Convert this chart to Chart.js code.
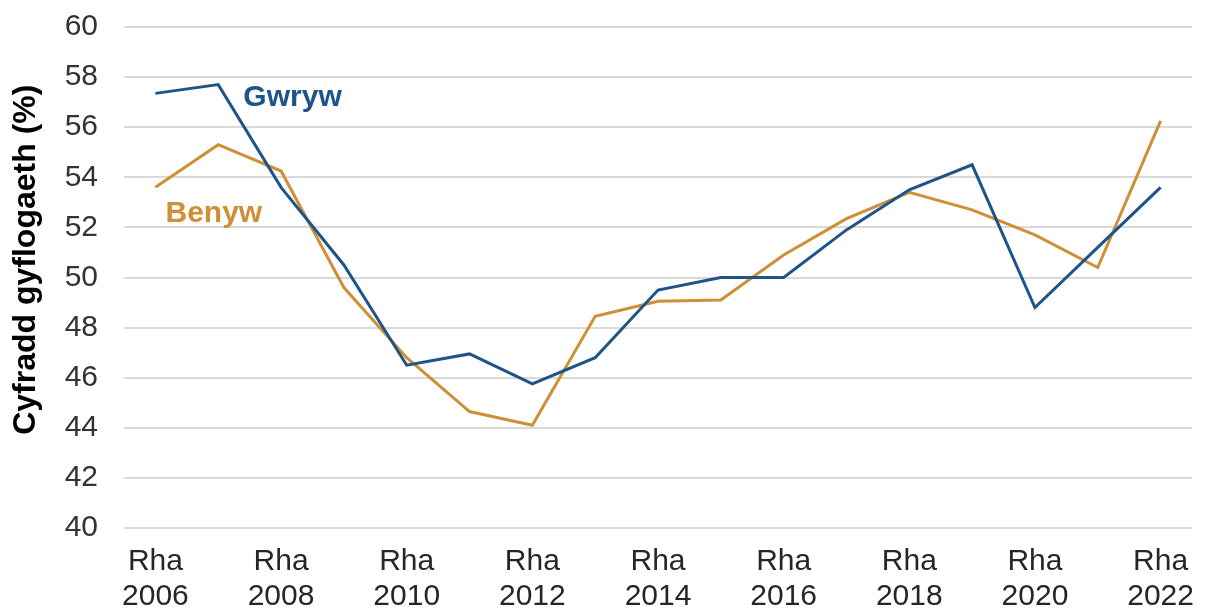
<!DOCTYPE html>
<html>
<head>
<meta charset="utf-8">
<script src="https://cdn.jsdelivr.net/npm/chart.js@4/dist/chart.umd.min.js"></script>
<style>
  html, body { margin: 0; padding: 0; background: #fff; }
  #wrap { width: 1205px; height: 613px; }
</style>
</head>
<body>
<div id="wrap"><canvas id="myChart" width="1205" height="613"></canvas></div>
<script>
// years on the x axis
const years = [2006, 2007, 2008, 2009, 2010, 2011, 2012, 2013, 2014,
    2015, 2016, 2017, 2018, 2019, 2020, 2021, 2022];

// employment rate (%)
const gwryw = [57.35, 57.7, 53.6, 50.5, 46.5, 46.95, 45.75, 46.8, 49.5,
    50.0, 50.0, 51.9, 53.5, 54.5, 48.8, 51.2, 53.6];
const benyw = [53.6, 55.3, 54.25, 49.6, 46.8, 44.65, 44.1, 48.45, 49.05,
    49.1, 50.9, 52.35, 53.4, 52.7, 51.7, 50.4, 56.25];

const blue = "#1d5489";
const orange = "#cf8f36";
const FONT = "'Liberation Sans', Arial, sans-serif";

const labels = years.map(function (y) { return ["Rha", String(y)]; });

// series names written next to the lines (x = category index, y = value at baseline)
const seriesLabels = [
    { text: "Gwryw", color: blue, x: 1.40, y: 56.84 },
    { text: "Benyw", color: orange, x: 0.16, y: 52.21 }
];

const inlineLabels = {
    id: "inlineLabels",
    afterDatasetsDraw(chart) {
        const ctx = chart.ctx;
        const xs = chart.scales.x;
        const ys = chart.scales.y;
        ctx.save();
        ctx.font = "bold 30px " + FONT;
        ctx.textAlign = "left";
        ctx.textBaseline = "alphabetic";
        for (const l of seriesLabels) {
            ctx.fillStyle = l.color;
            ctx.fillText(l.text, xs.getPixelForValue(l.x), ys.getPixelForValue(l.y));
        }
        ctx.restore();
    }
};

new Chart(document.getElementById("myChart"), {
    type: "line",
    data: {
        labels: labels,
        datasets: [
            {
                label: "Gwryw",
                data: gwryw,
                borderColor: blue,
                borderWidth: 3,
                pointRadius: 0,
                tension: 0,
            },
            {
                label: "Benyw",
                data: benyw,
                borderColor: orange,
                borderWidth: 3,
                pointRadius: 0,
                tension: 0,
            }
        ]
    },
    options: {
        responsive: false,
        animation: false,
        layout: { padding: { left: 8, right: 13, top: 27, bottom: 0 } },
        plugins: {
            legend: { display: false },
            tooltip: { enabled: false }
        },
        scales: {
            x: {
                offset: true,
                grid: { display: false, drawTicks: false },
                border: { display: false },
                afterFit: function (s) {
                    s.height = 85;
                    s.paddingLeft = 0;
                    s.paddingRight = 0;
                },
                ticks: {
                    autoSkip: false,
                    maxRotation: 0,
                    padding: 16,
                    color: "#262626",
                    font: { family: FONT, size: 30, lineHeight: 1.17 },
                    callback: function (v, i) { return i % 2 === 0 ? labels[i] : ""; }
                }
            },
            y: {
                min: 40,
                max: 60,
                grid: { color: "#d9d9d9", lineWidth: 2, drawTicks: false },
                border: { display: false },
                afterFit: function (s) {
                    s.width = 116;
                    s.paddingTop = 0;
                    s.paddingBottom = 0;
                },
                ticks: {
                    stepSize: 2,
                    padding: 26,
                    color: "#333333",
                    font: { family: FONT, size: 30 }
                },
                title: {
                    display: true,
                    text: "    Cyfradd gyflogaeth (%)",
                    color: "#000",
                    padding: { top: 0, bottom: 0 },
                    font: { family: FONT, size: 32, weight: "bold", lineHeight: 1.15 }
                }
            }
        }
    },
    plugins: [inlineLabels]
});
</script>
</body>
</html>
